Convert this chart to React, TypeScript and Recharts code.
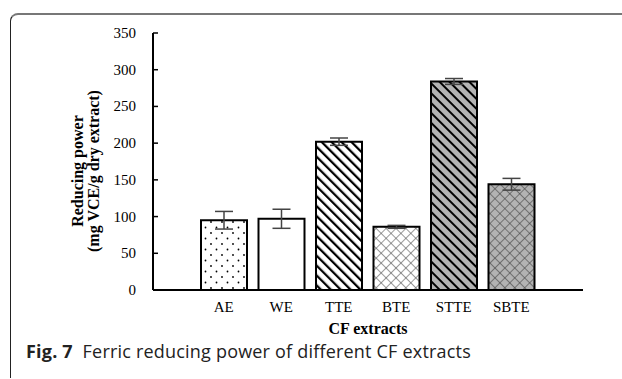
import React from 'react';
import { BarChart, Bar, XAxis, YAxis, ErrorBar, Cell } from 'recharts';

const categories = ['AE', 'WE', 'TTE', 'BTE', 'STTE', 'SBTE'];
const values = [95, 97, 202, 86, 284, 144];
const errors = [12, 13, 5, 2, 4, 8];
const yTicks = [0, 50, 100, 150, 200, 250, 300, 350];
const fills = ['url(#dots)', '#ffffff', 'url(#stripes)', 'url(#cross)', 'url(#stripesGray)', 'url(#crossGray)'];

const data = categories.map((name, i) => ({ name, value: values[i], err: errors[i] }));

const serif = '"Liberation Serif", "DejaVu Serif", serif';

const YTick = (props: any) => {
  const { x, y, payload } = props;
  return (
    <g>
      <line x1={x} x2={x + 5} y1={y} y2={y} stroke="#000" strokeWidth={1.5} />
      <text x={x - 17} y={y} dy={5} textAnchor="end" fontFamily={serif} fontSize={15} fill="#000">
        {payload.value}
      </text>
    </g>
  );
};

const YLabel = () => (
  <g fontFamily={serif} fontSize={16} fontWeight="bold" fill="#000">
    <text x={83} y={171} textAnchor="middle" transform="rotate(-90 83 171)">Reducing power</text>
    <text x={99} y={171} textAnchor="middle" transform="rotate(-90 99 171)">(mg VCE/g dry extract)</text>
  </g>
);

export default function App() {
  return (
    <div style={{ position: 'absolute', left: 0, top: 0, width: 622, height: 379, background: '#fff', overflow: 'hidden' }}>
      <div
        style={{
          position: 'absolute',
          left: 10,
          top: 13,
          width: 700,
          height: 363,
          borderLeft: '1.5px solid #222',
          borderTop: '2px solid #777',
          borderTopLeftRadius: 8,
        }}
      />
      <div style={{ position: 'absolute', left: 0, top: 0 }}>
        <BarChart width={622} height={379} data={data} margin={{ top: 33, right: 39, left: 93, bottom: 59 }}>
          <defs>
            <pattern id="dots" width="11" height="11" patternUnits="userSpaceOnUse">
              <rect width="11" height="11" fill="#fff" />
              <circle cx="2" cy="2" r="0.9" fill="#000" />
              <circle cx="7.5" cy="7.5" r="0.9" fill="#000" />
            </pattern>
            <pattern id="stripes" width="7" height="7" patternUnits="userSpaceOnUse" patternTransform="rotate(-45)">
              <rect width="7" height="7" fill="#fff" />
              <line x1="0" y1="0" x2="0" y2="7" stroke="#000" strokeWidth="4.5" />
            </pattern>
            <pattern id="stripesGray" width="7" height="7" patternUnits="userSpaceOnUse" patternTransform="rotate(-45)">
              <rect width="7" height="7" fill="#b3b3b3" />
              <line x1="0" y1="0" x2="0" y2="7" stroke="#000" strokeWidth="4" />
            </pattern>
            <pattern id="cross" width="7" height="7" patternUnits="userSpaceOnUse" patternTransform="rotate(45)">
              <rect width="7" height="7" fill="#fff" />
              <line x1="0" y1="0" x2="0" y2="7" stroke="#555" strokeWidth="1.2" />
              <line x1="0" y1="0" x2="7" y2="0" stroke="#555" strokeWidth="1.2" />
            </pattern>
            <pattern id="crossGray" width="7" height="7" patternUnits="userSpaceOnUse" patternTransform="rotate(45)">
              <rect width="7" height="7" fill="#b3b3b3" />
              <line x1="0" y1="0" x2="0" y2="7" stroke="#444" strokeWidth="1.2" />
              <line x1="0" y1="0" x2="7" y2="0" stroke="#444" strokeWidth="1.2" />
            </pattern>
          </defs>
          <XAxis
            dataKey="name"
            height={30}
            padding={{ left: 42, right: 43 }}
            axisLine={{ stroke: '#000', strokeWidth: 2 }}
            tickLine={false}
            tickMargin={0}
            tick={{ fontFamily: serif, fontSize: 15, fill: '#000', dy: 5 }}
            label={{ value: 'CF extracts', position: 'insideBottom', offset: -14, fontFamily: serif, fontSize: 16, fontWeight: 'bold', fill: '#000' }}
          />
          <YAxis
            width={60}
            domain={[0, 350]}
            ticks={yTicks}
            interval={0}
            axisLine={{ stroke: '#000', strokeWidth: 2 }}
            tickLine={false}
            tickSize={0}
            tickMargin={0}
            tick={<YTick />}
            label={<YLabel />}
          />
          <Bar dataKey="value" barSize={46} stroke="#000" strokeWidth={2} isAnimationActive={false}>
            {data.map((d, i) => (
              <Cell key={d.name} fill={fills[i]} />
            ))}
            <ErrorBar dataKey="err" width={9} stroke="#444" strokeWidth={1.5} direction="y" />
          </Bar>
        </BarChart>
      </div>
      <div
        style={{
          position: 'absolute',
          left: 26,
          top: 339,
          fontFamily: '"Open Sans", "Noto Sans", sans-serif',
          fontSize: 18,
          letterSpacing: 0.2,
          color: '#222',
          whiteSpace: 'nowrap',
        }}
      >
        <b>Fig. 7</b>&nbsp; Ferric reducing power of different CF extracts
      </div>
    </div>
  );
}
